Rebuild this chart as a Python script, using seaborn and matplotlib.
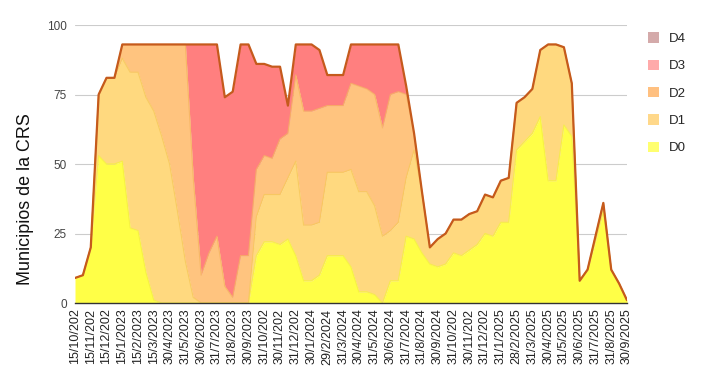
import matplotlib.pyplot as plt
import numpy as np
import seaborn as sns
from matplotlib.patches import Patch

# semimonthly reading, one label every second point
etiquetas = [
    "15/10/202", "15/11/202", "15/12/202", "15/1/2023", "15/2/2023", "15/3/2023",
    "30/4/2023", "31/5/2023", "30/6/2023", "31/7/2023", "31/8/2023", "30/9/2023",
    "31/10/202", "30/11/202", "31/12/202", "30/1/2024", "29/2/2024", "31/3/2024",
    "30/4/2024", "31/5/2024", "30/6/2024", "31/7/2024", "31/8/2024", "30/9/2024",
    "31/10/202", "30/11/202", "31/12/202", "31/1/2025", "28/2/2025", "31/3/2025",
    "30/4/2025", "31/5/2025", "30/6/2025", "31/7/2025", "31/8/2025", "30/9/2025",
]

d0 = [9, 10, 20, 53, 50, 50, 51, 27, 26, 11,
      1, 0, 0, 0, 0, 0, 0, 0, 0, 0,
      0, 0, 0, 17, 22, 22, 21, 23, 17, 8,
      8, 10, 17, 17, 17, 13, 4, 4, 3, 0,
      8, 8, 24, 23, 18, 14, 13, 14, 18, 17,
      19, 21, 25, 24, 29, 29, 55, 58, 61, 67,
      44, 44, 64, 60, 8, 12, 22, 33, 12, 7,
      1]
d1 = [0, 0, 0, 22, 31, 31, 37, 56, 57, 63,
      68, 60, 50, 33, 15, 2, 0, 0, 0, 0,
      0, 0, 0, 14, 17, 17, 18, 22, 34, 20,
      20, 19, 30, 30, 30, 35, 36, 36, 32, 24,
      18, 21, 21, 32, 22, 6, 10, 11, 12, 13,
      13, 12, 14, 14, 15, 16, 17, 16, 16, 24,
      49, 49, 28, 19, 0, 0, 2, 3, 0, 0,
      0]
d2 = [0, 0, 0, 0, 0, 0, 5, 10, 10, 19,
      24, 33, 43, 60, 78, 43, 10, 18, 24, 6,
      2, 17, 17, 17, 14, 13, 20, 16, 31, 41,
      41, 41, 24, 24, 24, 31, 38, 37, 40, 39,
      49, 47, 30, 6] + [0] * 27
d3 = [0, 0, 0, 0, 0, 0, 0, 0, 0, 0,
      0, 0, 0, 0, 0, 48, 83, 75, 69, 68,
      74, 76, 76, 38, 33, 33, 26, 10, 11, 24,
      24, 21, 11, 11, 11, 14, 15, 16, 18, 30,
      18, 17, 3, 0] + [0] * 27
d4 = [0] * 71

series = ["D0", "D1", "D2", "D3", "D4"]
fill_colors = ["#ffff47", "#ffd97f", "#ffc47f", "#ff7f7f", "#c89090"]
legend_colors = ["#ffff70", "#ffd88a", "#ffc080", "#ffaaaa", "#d4aaaa"]
edge_colors = ["#f5ef40", "#f7c85a", "#f5b560", "#c84a40", "#c0561e"]

sns.set_theme(style="white")
plt.rcParams["font.family"] = ["Liberation Sans", "DejaVu Sans"]

fig = plt.figure(figsize=(7.15, 3.89), dpi=100)
ax = fig.add_axes([75 / 715, 1 - 303 / 389, 552 / 715, 278 / 389])

x = np.arange(len(d0))
vals = np.array([d0, d1, d2, d3, d4], dtype=float)
ax.stackplot(x, vals, colors=fill_colors, linewidth=0)

tops = np.cumsum(vals, axis=0)
for k in range(3):
    ax.plot(x, tops[k], color=edge_colors[k], lw=0.9, alpha=0.8)
ax.plot(x, tops[-1], color="#c55a1c", lw=1.6)

ax.set_xlim(0, len(d0) - 1)
ax.set_ylim(0, 100)
ax.set_yticks([0, 25, 50, 75, 100])
ax.grid(axis="y", color="#cccccc", lw=0.8)
ax.set_axisbelow(True)
for s in ["top", "right", "left"]:
    ax.spines[s].set_visible(False)
ax.spines["bottom"].set_color("#333333")
ax.spines["bottom"].set_linewidth(1)

ax.set_xticks(x[::2])
ax.set_xticklabels(etiquetas, rotation=90, fontsize=9, color="#222222")
ax.tick_params(axis="x", length=0, pad=4)
ax.tick_params(axis="y", length=0, pad=6, labelsize=8.5, labelcolor="#444444")
ax.set_ylabel("Municipios de la CRS", fontsize=12.9, color="#111111")
ax.yaxis.set_label_coords(-0.075, 0.374)

handles = [Patch(facecolor=legend_colors[k], edgecolor="none") for k in range(4, -1, -1)]
fig.legend(handles, series[::-1], loc="upper left",
           bbox_to_anchor=(643 / 715, 1 - 27 / 389), frameon=False,
           fontsize=9.5, handlelength=0.85, handleheight=0.85,
           labelspacing=1.1, handletextpad=0.7, borderaxespad=0)

fig.savefig("out.png", dpi=100)
